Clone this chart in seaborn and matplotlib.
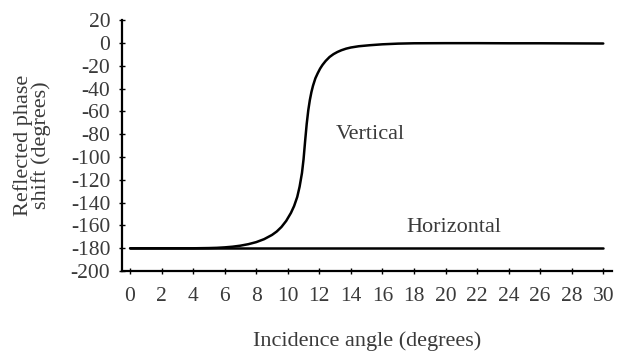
import numpy as np
import pandas as pd
import matplotlib
matplotlib.use("Agg")
import matplotlib.pyplot as plt
import seaborn as sns

# Vertical polarization
vert_angle = [0, 2, 4, 5, 5.5, 6, 6.5, 7, 7.5, 8, 8.5, 9, 9.3, 9.6, 9.9,
              10.2, 10.4, 10.6, 10.75, 10.9, 11.0, 11.1, 11.2, 11.3, 11.4,
              11.5, 11.6, 11.75, 11.9, 12.05, 12.2, 12.4, 12.65, 12.9, 13.15,
              13.4, 13.7, 14.0, 14.5, 15.2, 16, 17, 18, 20, 22, 24, 26, 28, 30]
vert_phase = [-180, -180, -180, -179.8, -179.6, -179.2, -178.6, -177.7, -176.4,
              -174.6, -172.0, -168.3, -165.3, -161.3, -156, -149, -143, -135,
              -126, -114, -102, -86, -71, -59, -50, -43, -37.5, -31, -26.5,
              -22.5, -19.3, -15.8, -12.3, -9.8, -7.9, -6.4, -5.0, -4.0, -2.9,
              -2.0, -1.2, -0.6, -0.3, -0.2, -0.2, -0.3, -0.3, -0.4, -0.5]
# Horizontal polarization
horiz_angle = [0, 30]
horiz_phase = [-180, -180]

x_ticks = list(range(0, 31, 2))
y_ticks = list(range(-200, 21, 20))

sns.set_theme(style="white")
plt.rcParams['font.family'] = ['Liberation Serif', 'DejaVu Serif']
plt.rcParams['axes.unicode_minus'] = False

fig = plt.figure(figsize=(6.2, 3.53), dpi=100)
ax = fig.add_axes([0.197, 0.232, 0.790, 0.711])

dv = pd.DataFrame({"angle": vert_angle, "phase": vert_phase})
dh = pd.DataFrame({"angle": horiz_angle, "phase": horiz_phase})
sns.lineplot(data=dv, x="angle", y="phase", ax=ax, color="black", lw=1.8, sort=False)
sns.lineplot(data=dh, x="angle", y="phase", ax=ax, color="black", lw=1.8)

ax.set_xlim(-0.5, 30.55)
ax.set_ylim(-200, 20)
ax.set_xticks(x_ticks)
ax.set_yticks(y_ticks)
tc = "#3a3a3a"
ax.tick_params(axis="both", direction="inout", length=5, width=1.0, color="black",
               labelsize=15.5, labelcolor=tc, pad=6, left=True, bottom=True)
ax.tick_params(axis="x", pad=9)
for s in ["top", "right"]:
    ax.spines[s].set_visible(False)
for s in ["left", "bottom"]:
    ax.spines[s].set_color("black")
    ax.spines[s].set_linewidth(1.6)

ax.set_xlabel("Incidence angle (degrees)", fontsize=16, color=tc, labelpad=18)
ax.set_ylabel("Reflected phase\nshift (degrees)", fontsize=16, color=tc, labelpad=14,
              linespacing=0.92)

ax.text(15.25, -80, "Vertical", fontsize=16, color=tc, ha="center", va="center")
ax.text(20.5, -162, "Horizontal", fontsize=16, color=tc, ha="center", va="center")

fig.savefig("out.png", dpi=100, facecolor="white")
